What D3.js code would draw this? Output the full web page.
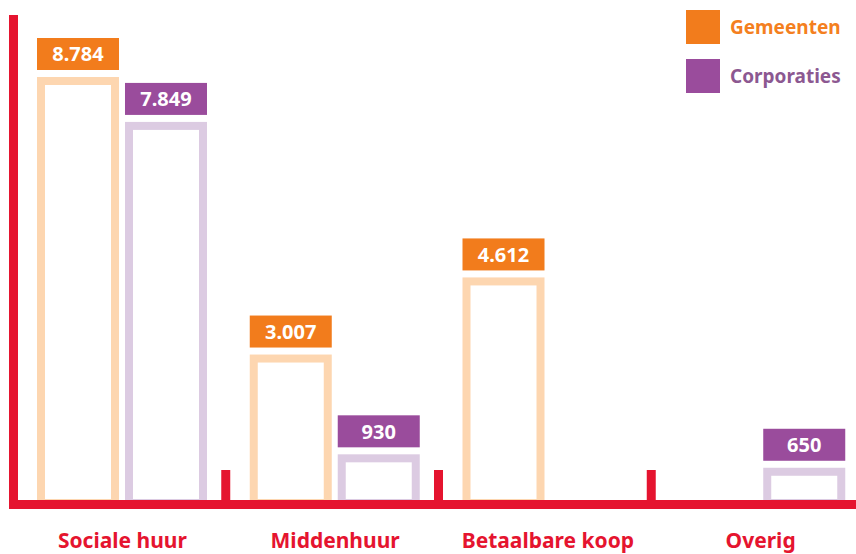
<!DOCTYPE html>
<html>
<head>
<meta charset="utf-8">
<script src="https://cdn.jsdelivr.net/npm/d3@7"></script>
<style>
  body { margin: 0; background: #fff; }
  svg { display: block; font-family: "Noto Sans", sans-serif; font-weight: 700; }
</style>
</head>
<body>
<div id="chart"></div>
<script>
const categories = ["Sociale huur", "Middenhuur", "Betaalbare koop", "Overig"];
const series = ["Gemeenten", "Corporaties"];
const gemeenten = [8784, 3007, 4612, 0];
const corporaties = [7849, 930, 0, 650];
const labels = [["8.784", "7.849"], ["3.007", "930"], ["4.612", ""], ["", "650"]];

function renderChart() {
    const width = 856;
    const height = 554;
    const red = "#e5142f";
    const boxColor = { Gemeenten: "#f27c1c", Corporaties: "#9a4c9c" };
    const lineColor = { Gemeenten: "#fdd6b0", Corporaties: "#dccbe2" };
    const textColor = { Gemeenten: "#f47f20", Corporaties: "#8c5891" };
    const sw = 8; // bar outline width

    const svg = d3.select("#chart").append("svg")
        .attr("width", width)
        .attr("height", height);

    const x0 = d3.scaleBand().domain(categories).range([13, 864]);
    const x1 = d3.scaleBand().domain(series).range([24, 194]).paddingInner(0.068);
    const y = d3.scaleLinear().domain([0, 8784]).range([499, 77]);

    const rows = categories.map((c, i) => ({
        cat: c,
        vals: [
            { s: "Gemeenten", v: gemeenten[i], label: labels[i][0] },
            { s: "Corporaties", v: corporaties[i], label: labels[i][1] }
        ].filter(d => d.v > 0)
    }));

    const group = svg.append("g")
        .selectAll("g")
        .data(rows)
        .join("g")
        .attr("transform", d => `translate(${x0(d.cat)},0)`);

    // outlined bars
    group.selectAll("rect.bar")
        .data(d => d.vals)
        .join("rect")
        .attr("class", "bar")
        .attr("x", d => x1(d.s) + sw / 2)
        .attr("width", x1.bandwidth() - sw)
        .attr("y", d => y(d.v) + sw / 2)
        .attr("height", d => y(0) - y(d.v))
        .attr("fill", "none")
        .attr("stroke", d => lineColor[d.s])
        .attr("stroke-width", sw);

    // value label boxes
    group.selectAll("rect.box")
        .data(d => d.vals)
        .join("rect")
        .attr("class", "box")
        .attr("x", d => x1(d.s))
        .attr("width", x1.bandwidth())
        .attr("y", d => y(d.v) - 7 - 32)
        .attr("height", 32)
        .attr("fill", d => boxColor[d.s]);

    group.selectAll("text.val")
        .data(d => d.vals)
        .join("text")
        .attr("class", "val")
        .attr("x", d => x1(d.s) + x1.bandwidth() / 2)
        .attr("y", d => y(d.v) - 7 - 16)
        .attr("dy", "0.36em")
        .attr("text-anchor", "middle")
        .attr("fill", "#fff")
        .style("font-size", "20px")
        .text(d => d.label);

    // axes in red
    svg.append("line")
        .attr("x1", 13.5).attr("x2", 13.5)
        .attr("y1", 15).attr("y2", 509)
        .attr("stroke", red).attr("stroke-width", 9);

    svg.append("line")
        .attr("x1", 9).attr("x2", width)
        .attr("y1", 504.5).attr("y2", 504.5)
        .attr("stroke", red).attr("stroke-width", 9);

    svg.append("g")
        .selectAll("line")
        .data(categories.slice(1))
        .join("line")
        .attr("x1", d => x0(d)).attr("x2", d => x0(d))
        .attr("y1", 470).attr("y2", 504)
        .attr("stroke", red).attr("stroke-width", 9);

    svg.append("g")
        .selectAll("text")
        .data(categories)
        .join("text")
        .attr("x", d => x0(d) + x0.bandwidth() / 2 + 3)
        .attr("y", 548)
        .attr("text-anchor", "middle")
        .attr("fill", red)
        .style("font-size", "21px")
        .text(d => d);

    // legend
    const legend = svg.append("g")
        .selectAll("g")
        .data(series)
        .join("g")
        .attr("transform", (d, i) => `translate(686,${10 + i * 49})`);

    legend.append("rect")
        .attr("width", 34).attr("height", 34)
        .attr("fill", d => boxColor[d]);

    legend.append("text")
        .attr("x", 44).attr("y", 17)
        .attr("dy", "0.36em")
        .attr("fill", d => textColor[d])
        .style("font-size", "19px")
        .text(d => d);
}

renderChart();
</script>
</body>
</html>
